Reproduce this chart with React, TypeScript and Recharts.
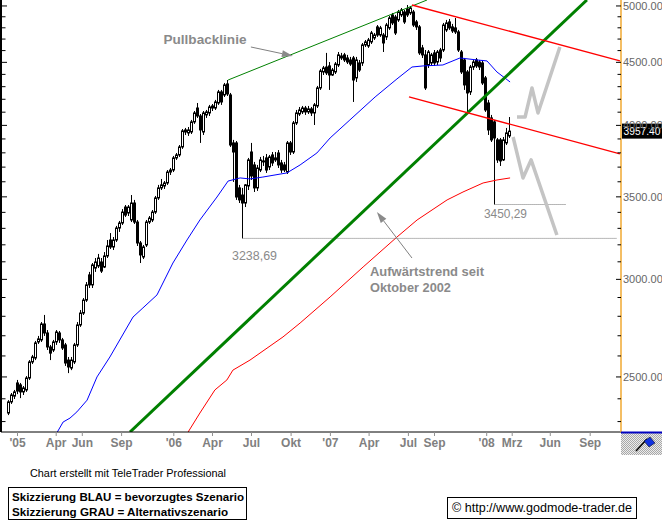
import React from 'react';
import { ComposedChart, Bar, Line, XAxis, YAxis, ReferenceLine, ReferenceDot } from 'recharts';

const FONT = "'Liberation Sans', Arial, Helvetica, sans-serif";

// weekly bars, week index relative to 1 Jan 2005
const FIRST_WEEK = -3;
const opens = [
  2337, 2386, 2412, 2472, 2463, 2431, 2440, 2495, 2571, 2590, 2669, 2679, 2760, 2714, 2644, 2629, 2669, 2714, 2679, 2654,
  2580, 2542, 2571, 2654, 2755, 2817, 2886, 3025, 2969, 3064, 3076, 3099, 3070, 3134, 3229, 3187, 3229, 3302, 3333, 3434,
  3396, 3352, 3460, 3339, 3211, 3128, 3199, 3339, 3352, 3402, 3493, 3559, 3572, 3592, 3666, 3680, 3764, 3785, 3842, 3966,
  3944, 3951, 4026, 4132, 4071, 3951, 4079, 4094, 4132, 4132, 4171, 4258, 4234, 4322, 4234, 3871, 3871, 3559, 3512, 3460,
  3572, 3806, 3715, 3559, 3680, 3743, 3764, 3701, 3785, 3764, 3799, 3729, 3715, 3666, 3871, 3806, 4018, 4086, 4102, 4132,
  4102, 4125, 4094, 4148, 4290, 4420, 4461, 4470, 4395, 4420, 4478, 4537, 4563, 4537, 4520, 4537, 4371, 4495, 4495, 4649,
  4640, 4675, 4710, 4808, 4736, 4736, 4719, 4799, 4917, 4898, 4871, 4917, 4944, 4972, 4935, 4944, 4853, 4808, 4623, 4563,
  4478, 4495, 4580, 4503, 4605, 4605, 4781, 4853, 4808, 4799, 4763, 4588, 4520, 4420, 4258, 4461, 4520, 4503, 4495, 4371,
  4171, 4056, 4026, 3893, 3893, 3750, 3871, 3922,
];
const highs = [
  2394, 2426, 2440, 2486, 2472, 2458, 2504, 2580, 2605, 2674, 2699, 2770, 2807, 2729, 2654, 2679, 2729, 2724, 2689, 2664,
  2595, 2595, 2664, 2770, 2833, 2897, 2985, 3042, 3093, 3122, 3146, 3122, 3157, 3229, 3271, 3247, 3315, 3346, 3421, 3447,
  3447, 3512, 3480, 3352, 3223, 3199, 3352, 3377, 3415, 3506, 3579, 3619, 3605, 3680, 3694, 3778, 3799, 3856, 3973, 3981,
  3988, 4041, 4109, 4171, 4086, 4109, 4117, 4156, 4163, 4195, 4274, 4274, 4330, 4354, 4250, 3893, 3885, 3579, 3559, 3585,
  3764, 3871, 3736, 3715, 3771, 3778, 3792, 3785, 3806, 3806, 3820, 3750, 3736, 3885, 3885, 4033, 4117, 4140, 4148, 4148,
  4148, 4140, 4171, 4306, 4445, 4470, 4580, 4503, 4453, 4503, 4588, 4580, 4580, 4563, 4546, 4554, 4546, 4520, 4666, 4692,
  4710, 4772, 4754, 4825, 4817, 4754, 4844, 4908, 4935, 4917, 4963, 4981, 4963, 5009, 5000, 4963, 4871, 4825, 4649, 4605,
  4605, 4580, 4605, 4605, 4623, 4844, 4871, 4880, 4835, 4889, 4781, 4605, 4537, 4436, 4478, 4520, 4537, 4520, 4520, 4387,
  4195, 4079, 4041, 3907, 3907, 3914, 3981, 4063,
];
const lows = [
  2328, 2377, 2399, 2421, 2403, 2417, 2431, 2486, 2561, 2580, 2659, 2669, 2699, 2629, 2580, 2619, 2654, 2664, 2629, 2552,
  2518, 2532, 2561, 2644, 2745, 2807, 2876, 2952, 2952, 3042, 3064, 3036, 3064, 3122, 3175, 3169, 3217, 3278, 3321, 3371,
  3377, 3339, 3327, 3193, 3093, 3116, 3187, 3327, 3339, 3390, 3480, 3545, 3552, 3579, 3646, 3666, 3750, 3771, 3828, 3929,
  3922, 3936, 4011, 4056, 3871, 3929, 4056, 4071, 4109, 4117, 4156, 4156, 4218, 4226, 3842, 3599, 3480, 3460, 3238.69, 3434,
  3545, 3612, 3532, 3539, 3666, 3708, 3660, 3680, 3708, 3736, 3694, 3660, 3666, 3653, 3785, 3792, 4003, 4071, 4086, 4079,
  4086, 4071, 4003, 4132, 4274, 4395, 4395, 4274, 4387, 4403, 4461, 4520, 4503, 4486, 4470, 4179, 4338, 4420, 4470, 4631,
  4623, 4657, 4692, 4719, 4719, 4588, 4692, 4781, 4825, 4736, 4853, 4898, 4835, 4898, 4917, 4808, 4781, 4563, 4537, 4274,
  4453, 4470, 4470, 4478, 4503, 4588, 4763, 4781, 4754, 4745, 4588, 4403, 4274, 4094, 4234, 4436, 4453, 4436, 4314, 4102,
  3929, 3878, 3450.29, 3729, 3708, 3743, 3856, 3907,
];
const closes = [
  2386, 2417, 2431, 2435, 2431, 2449, 2495, 2571, 2595, 2664, 2684, 2760, 2714, 2644, 2614, 2669, 2719, 2679, 2639, 2566,
  2547, 2580, 2654, 2755, 2817, 2886, 2969, 2969, 3082, 3099, 3122, 3047, 3134, 3193, 3187, 3229, 3302, 3333, 3402, 3383,
  3434, 3460, 3339, 3211, 3140, 3187, 3339, 3364, 3402, 3493, 3559, 3579, 3592, 3666, 3680, 3764, 3785, 3842, 3959, 3951,
  3966, 4026, 4094, 4071, 3966, 4094, 4102, 4140, 4148, 4179, 4258, 4179, 4314, 4242, 3856, 3806, 3499, 3480, 3460, 3579,
  3750, 3639, 3559, 3694, 3750, 3736, 3680, 3771, 3729, 3750, 3715, 3680, 3680, 3871, 3806, 4018, 4094, 4117, 4132, 4102,
  4125, 4094, 4156, 4290, 4428, 4453, 4412, 4395, 4436, 4486, 4563, 4554, 4520, 4503, 4486, 4354, 4520, 4436, 4649, 4675,
  4692, 4754, 4736, 4736, 4799, 4666, 4825, 4889, 4844, 4754, 4944, 4963, 4853, 4917, 4981, 4825, 4808, 4580, 4563, 4290,
  4588, 4563, 4495, 4588, 4537, 4825, 4844, 4799, 4772, 4763, 4605, 4420, 4314, 4250, 4461, 4503, 4470, 4461, 4330, 4117,
  3966, 3893, 3907, 3750, 3743, 3893, 3944, 3957.4,
];

const candles = opens.map((o, i) => ({ w: FIRST_WEEK + i, o, h: highs[i], l: lows[i], c: closes[i] }));

// moving averages (blue = short, red = long)
const blueWeeks = [12.8, 15.2, 17.5, 19.8, 23.2, 26.5, 30.8, 38.5, 41.8, 46.5, 51.8, 56.5, 60.8, 66.5, 70.2, 74.2, 77.5, 81.8, 89.8, 94.2, 99.8, 104.2, 110.8, 119.2, 126.5, 131.5, 135.2, 141.8, 147.5, 153.2, 156.5, 159.8, 164.2];
const blueValues = [2245, 2298, 2315, 2342, 2394, 2500, 2595, 2796, 2844, 2914, 3093, 3229, 3352, 3499, 3605, 3626, 3619, 3632, 3660, 3715, 3799, 3907, 4041, 4218, 4363, 4461, 4470, 4478, 4537, 4520, 4512, 4420, 4338];
const redWeeks = [56.6, 60.8, 65.8, 69.8, 71.8, 77.5, 88.5, 94.2, 104.2, 115.2, 126.5, 133.2, 143.2, 148.5, 155.2, 159.8, 164.2];
const redValues = [2250, 2337, 2440, 2486, 2532, 2580, 2694, 2765, 2903, 3070, 3247, 3352, 3480, 3532, 3592, 3612, 3626];

const toPts = (ws: number[], vs: number[]) => ws.map((w, i) => ({ w, v: vs[i] }));
const maBlue = toPts(blueWeeks, blueValues);
const maRed = toPts(redWeeks, redValues);

// drawn lines
const uptrend = toPts([37.5, 189.8], [2255.6, 5056]);
const pullback = toPts([70.2, 136.5], [4354, 5056]);
const channelUpper = toPts([131.5, 200.8], [5009, 4513]);
const channelLower = toPts([130.5, 200.8], [4218, 3793]);
const low2006 = toPts([75, 199.8], [3238.69, 3238.69]);
const low2008 = toPts([159, 182.8], [3450.29, 3450.29]);
const sketchUp = toPts([166.5, 169.2, 171.5, 173.5, 180.8], [4063, 4063, 4290, 4094, 4631]);
const sketchDown = toPts([165.2, 168.5, 171.2, 179.8], [3914, 3626, 3750, 3259]);

const arrows = [
  { from: { x: 77.8, y: 4631 }, to: { x: 91.8, y: 4554 } },
  { from: { x: 131.5, y: 3122 }, to: { x: 119.8, y: 3402 } },
];
const notes = [
  { text: 'Pullbacklinie', w: 62.5, v: 4701, anchor: 'middle', bold: true, len: 83 },
  { text: 'Aufwärtstrend seit', w: 117.5, v: 3047, anchor: 'start', bold: true, len: 114 },
  { text: 'Oktober 2002', w: 117.5, v: 2957, anchor: 'start', bold: true, len: 81 },
  { text: '3238,69', w: 71.5, v: 3140, anchor: 'start', bold: false, len: 45 },
  { text: '3450,29', w: 155.5, v: 3396, anchor: 'start', bold: false, len: 43 },
];
const LAST_PRICE = 3957.4;

const xTickWeeks = [0, 12.9, 21.6, 34.7, 52.1, 65, 78, 91.2, 104.3, 117.2, 130.3, 139, 156.4, 164.9, 177.6, 190.9];
const xTickLabels = ["'05", 'Apr', 'Jun', 'Sep', "'06", 'Apr', 'Jul', 'Okt', "'07", 'Apr', 'Jul', 'Sep', "'08", 'Mrz', 'Jun', 'Sep'];
const yTicks = [2300, 2400, 2500, 2600, 2700, 2800, 2900, 3000, 3100, 3200, 3300, 3400, 3500, 3600, 3700, 3800, 3900, 4000, 4100, 4200, 4300, 4400, 4500, 4600, 4700, 4800, 4900, 5000];

const X_DOMAIN: [number, number] = [-5.5, 201.17];
const Y_DOMAIN: [number, number] = [2255.6, 5056];

const Candle = (props: any) => {
  let { x, y, width, height, payload } = props;
  if (x == null || y == null || !payload) return null;
  if (height < 0) { y = y + height; height = -height; }
  const cx = Math.floor(x + width / 2) + 0.5;
  const lh = Math.log(payload.h);
  const ll = Math.log(payload.l);
  const span = lh - ll || 1;
  const yOf = (v: number) => y + (height * (lh - Math.log(v))) / span;
  const yo = yOf(payload.o);
  const yc = yOf(payload.c);
  const top = Math.min(yo, yc);
  const bot = Math.max(yo, yc);
  const up = payload.c >= payload.o;
  return (
    <g>
      <line x1={cx} x2={cx} y1={y} y2={y + height} stroke="#000" strokeWidth={1} />
      <rect x={cx - 1} y={top} width={2} height={Math.max(bot - top, 0.8)} fill={up ? '#fff' : '#000'} stroke="#000" strokeWidth={1} />
    </g>
  );
};

const RightTick = (props: any) => {
  const { x, y, payload } = props;
  const major = payload.value % 500 === 0;
  return (
    <g>
      <line x1={x - (major ? 5 : 3.5)} x2={x} y1={y} y2={y} stroke="#000" strokeWidth={1} />
      {major && (
        <text x={x + 2} y={y} dy="0.36em" fontSize={11} fill="#666" fontFamily={FONT}>
          {payload.value.toFixed(2)}
        </text>
      )}
    </g>
  );
};

const LeftTick = (props: any) => {
  const { x, y, payload } = props;
  const major = payload.value % 500 === 0;
  return <line x1={x} x2={x + (major ? 6 : 4.5)} y1={y} y2={y} stroke="#000" strokeWidth={1} />;
};

const ArrowShape = (p: any) => {
  const { x1, y1, x2, y2 } = p;
  if (x1 == null) return null;
  const ang = Math.atan2(y2 - y1, x2 - x1);
  const L = 11;
  const W = 3.5;
  const bx = x2 - L * Math.cos(ang);
  const by = y2 - L * Math.sin(ang);
  const px = -Math.sin(ang) * W;
  const py = Math.cos(ang) * W;
  return (
    <g>
      <line x1={x1} y1={y1} x2={bx} y2={by} stroke="#808080" strokeWidth={1} />
      <polygon points={`${x2},${y2} ${bx + px},${by + py} ${bx - px},${by - py}`} fill="#8a8a8a" />
    </g>
  );
};

const makeNote = (n: any) => (p: any) => (
  <text
    x={p.cx}
    y={p.cy}
    dy="0.36em"
    textAnchor={n.anchor}
    fontSize={13}
    fontWeight={n.bold ? 'bold' : 'normal'}
    fill="#8a8a8a"
    fontFamily={FONT}
    textLength={n.len}
    lengthAdjust="spacingAndGlyphs"
  >
    {n.text}
  </text>
);

const PriceTag = (p: any) => (
  <g>
    <rect x={p.cx + 1} y={p.cy - 7.5} width={41} height={15} fill="#000" />
    <text x={p.cx + 2.5} y={p.cy} dy="0.36em" fontSize={11} fill="#fff" fontFamily={FONT} textLength={37} lengthAdjust="spacingAndGlyphs">
      {LAST_PRICE.toFixed(2)}
    </text>
  </g>
);

export default function App() {
  return (
    <div style={{ position: 'absolute', left: 0, top: 0, width: 662, height: 523, background: '#fff', overflow: 'hidden' }}>
      <ComposedChart width={662} height={455} data={candles} margin={{ top: 0, right: 0, bottom: 0, left: 0 }}>
        <XAxis
          dataKey="w"
          type="number"
          domain={X_DOMAIN}
          allowDataOverflow
          ticks={xTickWeeks}
          interval={0}
          tickFormatter={(v: number) => xTickLabels[xTickWeeks.indexOf(v)] ?? ''}
          height={23}
          axisLine={{ stroke: '#000', strokeWidth: 1 }}
          tickLine={{ stroke: '#909090' }}
          tickSize={4}
          tickMargin={2}
          tick={{ fontSize: 12, fontWeight: 'bold', fill: '#808080', fontFamily: FONT }}
        />
        <YAxis
          yAxisId="l"
          orientation="left"
          scale="log"
          domain={Y_DOMAIN}
          allowDataOverflow
          ticks={yTicks}
          interval={0}
          width={1}
          tickLine={false}
          tickSize={0}
          tickMargin={0}
          tick={<LeftTick />}
          axisLine={{ stroke: '#000', strokeWidth: 2 }}
        />
        <YAxis
          yAxisId="r"
          orientation="right"
          scale="log"
          domain={Y_DOMAIN}
          allowDataOverflow
          ticks={yTicks}
          interval={0}
          width={41}
          tickLine={false}
          tickSize={0}
          tickMargin={0}
          tick={<RightTick />}
          axisLine={{ stroke: '#f0a830', strokeWidth: 1.5 }}
        />
        <Line yAxisId="r" data={maBlue} dataKey="v" type="linear" stroke="#0000ff" strokeWidth={1} dot={false} isAnimationActive={false} />
        <Line yAxisId="r" data={maRed} dataKey="v" type="linear" stroke="#ff0000" strokeWidth={1} dot={false} isAnimationActive={false} />
        <Line yAxisId="r" data={low2006} dataKey="v" stroke="#707070" strokeWidth={1} strokeDasharray="1 1" dot={false} isAnimationActive={false} />
        <Line yAxisId="r" data={low2008} dataKey="v" stroke="#707070" strokeWidth={1} strokeDasharray="1 1" dot={false} isAnimationActive={false} />
        <Bar yAxisId="r" dataKey={(d: any) => [d.l, d.h]} barSize={3} shape={Candle} isAnimationActive={false} />
        <Line yAxisId="r" data={uptrend} dataKey="v" stroke="#008000" strokeWidth={3} dot={false} isAnimationActive={false} />
        <Line yAxisId="r" data={pullback} dataKey="v" stroke="#008000" strokeWidth={1} dot={false} isAnimationActive={false} />
        <Line yAxisId="r" data={channelUpper} dataKey="v" stroke="#ff0000" strokeWidth={1.3} dot={false} isAnimationActive={false} />
        <Line yAxisId="r" data={channelLower} dataKey="v" stroke="#ff0000" strokeWidth={1.3} dot={false} isAnimationActive={false} />
        <Line yAxisId="r" data={sketchUp} dataKey="v" stroke="#c4c4c4" strokeWidth={3.5} strokeLinejoin="round" dot={false} isAnimationActive={false} />
        <Line yAxisId="r" data={sketchDown} dataKey="v" stroke="#c4c4c4" strokeWidth={3.5} strokeLinejoin="round" dot={false} isAnimationActive={false} />
        {arrows.map((a, i) => (
          <ReferenceLine key={`a${i}`} yAxisId="r" segment={[a.from, a.to]} shape={ArrowShape} ifOverflow="visible" />
        ))}
        {notes.map((n, i) => (
          <ReferenceDot key={`n${i}`} yAxisId="r" x={n.w} y={n.v} r={0} shape={makeNote(n)} ifOverflow="visible" />
        ))}
        <ReferenceDot yAxisId="r" x={X_DOMAIN[1]} y={LAST_PRICE} r={0} shape={PriceTag} ifOverflow="visible" />
      </ComposedChart>
      <svg width={662} height={523} style={{ position: 'absolute', left: 0, top: 0, pointerEvents: 'none' }}>
        <defs>
          <pattern id="hatch" width="2" height="2" patternUnits="userSpaceOnUse">
            <rect width="2" height="2" fill="#ececec" />
            <rect width="1" height="1" fill="#a8a8a8" />
            <rect x="1" y="1" width="1" height="1" fill="#a8a8a8" />
          </pattern>
        </defs>
        <rect x={621} y={433} width={41} height={22} fill="url(#hatch)" />
        <line x1={621} x2={662} y1={432.5} y2={432.5} stroke="#0000c0" strokeWidth={2} />
        <line x1={636} y1={451} x2={647} y2={439} stroke="#000" strokeWidth={1.5} />
        <polygon points="644,441 650,437 655,443 649,447" fill="#1030e0" stroke="#000" strokeWidth={0.5} />
        <text x={30} y={477} fontSize={11} fill="#000" fontFamily={FONT} textLength={196} lengthAdjust="spacingAndGlyphs">
          Chart erstellt mit TeleTrader Professional
        </text>
        <rect x={8.5} y={487.5} width={238} height={32} fill="none" stroke="#000" strokeWidth={1} />
        <text x={12} y={501} fontSize={11} fontWeight="bold" fill="#000" fontFamily={FONT} textLength={232} lengthAdjust="spacingAndGlyphs">
          Skizzierung BLAU = bevorzugtes Szenario
        </text>
        <text x={12} y={516} fontSize={11} fontWeight="bold" fill="#000" fontFamily={FONT} textLength={216} lengthAdjust="spacingAndGlyphs">
          Skizzierung GRAU = Alternativszenario
        </text>
        <rect x={447.5} y={497.5} width={189} height={21} fill="none" stroke="#000" strokeWidth={1} />
        <text x={452} y={512} fontSize={12} fill="#000" fontFamily={FONT} textLength={180} lengthAdjust="spacingAndGlyphs">
          © http://www.godmode-trader.de
        </text>
      </svg>
    </div>
  );
}
